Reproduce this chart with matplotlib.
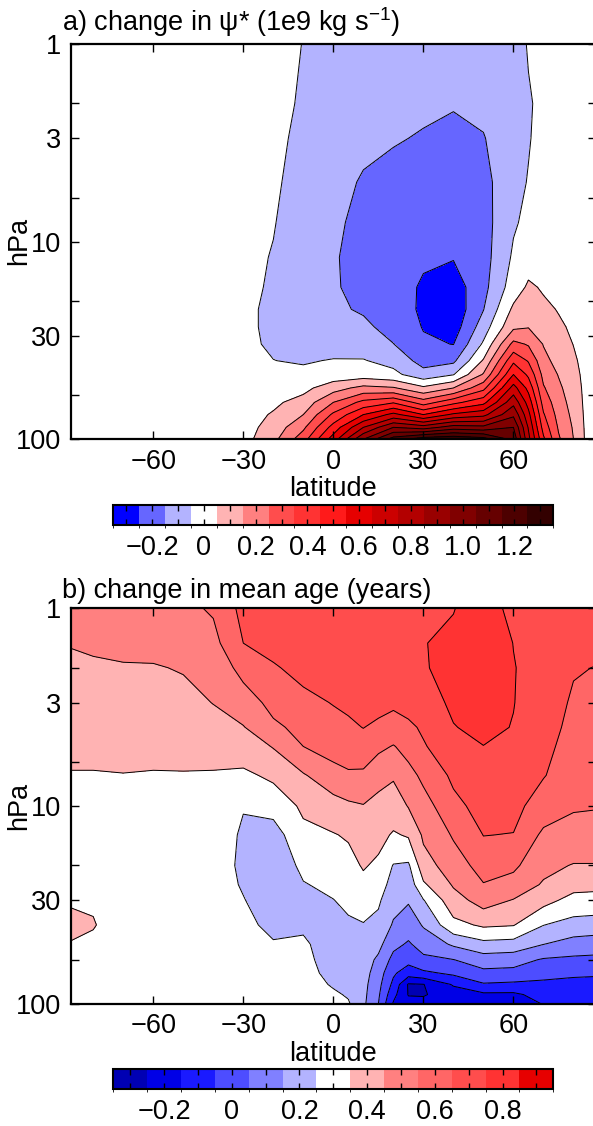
import numpy as np
import matplotlib
matplotlib.use('Agg')
import matplotlib.pyplot as plt
from matplotlib.colors import ListedColormap, BoundaryNorm
from matplotlib.ticker import FixedLocator, NullLocator

plt.rcParams['font.family'] = ['Liberation Sans', 'DejaVu Sans']
plt.rcParams['mathtext.fontset'] = 'custom'
plt.rcParams['mathtext.rm'] = 'Liberation Sans'
plt.rcParams['mathtext.it'] = 'Liberation Sans:italic'
plt.rcParams['font.size'] = 19.5
plt.rcParams['contour.negative_linestyle'] = 'solid'

# ---- a) change in residual streamfunction, 1e9 kg/s ----
lat_a = [-88, -60, -40, -30, -20, -10, 0, 10, 20, 30, 40, 50, 60, 65, 70, 75, 80, 84, 88]
p_a = [1, 2, 3, 5, 8, 12, 17, 22, 27, 33, 40, 47, 55, 65, 75, 87, 100]
# one profile (top -> bottom) per latitude
psi_a = [
    [0] * 17,
    [0] * 17,
    [0] * 17,
    [0, -0.01, -0.01, -0.015, -0.02, -0.025, -0.03, -0.035, -0.035, -0.035, -0.03, -0.02, -0.01, 0.0, 0.005, 0.01, 0.015],
    [-0.02, -0.025, -0.03, -0.038, -0.046, -0.055, -0.06, -0.065, -0.065, -0.06, -0.049, -0.03, -0.01, 0.03, 0.06, 0.09, 0.12],
    [-0.052, -0.06, -0.07, -0.08, -0.09, -0.095, -0.1, -0.1, -0.095, -0.085, -0.058, -0.03, 0.02, 0.09, 0.15, 0.23, 0.31],
    [-0.075, -0.09, -0.1, -0.115, -0.13, -0.14, -0.14, -0.135, -0.12, -0.085, -0.045, -0.01, 0.11, 0.25, 0.37, 0.49, 0.6],
    [-0.09, -0.11, -0.13, -0.16, -0.18, -0.19, -0.18, -0.16, -0.13, -0.09, -0.045, 0.0, 0.18, 0.38, 0.55, 0.75, 0.95],
    [-0.1, -0.125, -0.145, -0.175, -0.195, -0.21, -0.215, -0.205, -0.185, -0.148, -0.08, -0.025, 0.16, 0.44, 0.68, 0.95, 1.2],
    [-0.11, -0.14, -0.155, -0.19, -0.22, -0.24, -0.26, -0.265, -0.255, -0.235, -0.19, -0.11, 0.07, 0.3, 0.55, 0.9, 1.32],
    [-0.11, -0.145, -0.17, -0.2, -0.225, -0.245, -0.3, -0.32, -0.3, -0.252, -0.17, -0.055, 0.15, 0.42, 0.67, 1.0, 1.34],
    [-0.1, -0.13, -0.155, -0.18, -0.19, -0.19, -0.18, -0.153, -0.1, -0.035, 0.06, 0.16, 0.32, 0.52, 0.72, 0.98, 1.3],
    [-0.08, -0.085, -0.085, -0.08, -0.06, -0.035, 0.0, 0.07, 0.13, 0.28, 0.43, 0.55, 0.69, 0.82, 0.93, 1.05, 1.12],
    [-0.045, -0.058, -0.055, -0.045, -0.03, 0.01, 0.065, 0.11, 0.145, 0.24, 0.34, 0.43, 0.52, 0.61, 0.68, 0.74, 0.78],
    [-0.03, -0.03, -0.025, -0.015, 0.0, 0.02, 0.04, 0.07, 0.1, 0.145, 0.18, 0.22, 0.26, 0.31, 0.36, 0.41, 0.47],
    [-0.02, -0.02, -0.015, -0.01, 0.0, 0.01, 0.025, 0.045, 0.065, 0.09, 0.115, 0.145, 0.17, 0.195, 0.215, 0.24, 0.265],
    [-0.01, -0.01, -0.01, 0.0, 0.0, 0.005, 0.015, 0.025, 0.035, 0.048, 0.065, 0.08, 0.095, 0.11, 0.125, 0.14, 0.15],
    [0, 0, 0, 0, 0, 0, 0.005, 0.01, 0.012, 0.015, 0.02, 0.025, 0.028, 0.03, 0.033, 0.037, 0.04],
    [0] * 17,
]
levels_a = np.round(np.arange(-0.35, 1.36, 0.1), 2)
colors_a = ['#0000ff', '#6666ff', '#b3b3ff', '#ffffff', '#ffb3b3', '#ff8080', '#ff4d4d',
            '#ff3333', '#ff1a1a', '#e60000', '#cc0000', '#b30000', '#990000', '#800000',
            '#660000', '#4d0000', '#330000']
cb_labels_a = ['', '\u22120.2', '', '0', '', '0.2', '', '0.4', '', '0.6', '', '0.8', '',
               '1.0', '', '1.2', '']

# ---- b) change in mean age, years ----
lat_b = [-88, -80, -70, -60, -50, -40, -30, -20, -10, 0, 5, 10, 15, 20, 25, 30, 40, 50, 60, 70, 80, 88]
p_b = [1, 1.5, 2, 3, 4, 5, 7, 10, 14, 20, 25, 30, 40, 50, 60, 70, 80, 90, 100]
age_b = [
    [0.5, 0.452, 0.44, 0.42, 0.395, 0.37, 0.345, 0.33, 0.32, 0.315, 0.32, 0.34, 0.38, 0.345, 0.32, 0.31, 0.3, 0.3, 0.3],
    [0.5, 0.46, 0.44, 0.42, 0.395, 0.37, 0.345, 0.33, 0.32, 0.315, 0.32, 0.34, 0.356, 0.33, 0.315, 0.305, 0.3, 0.3, 0.3],
    [0.5, 0.465, 0.445, 0.42, 0.395, 0.37, 0.348, 0.33, 0.32, 0.31, 0.305, 0.3, 0.3, 0.3, 0.3, 0.3, 0.3, 0.3, 0.3],
    [0.51, 0.47, 0.445, 0.42, 0.395, 0.37, 0.345, 0.33, 0.32, 0.31, 0.305, 0.3, 0.3, 0.3, 0.3, 0.3, 0.3, 0.3, 0.3],
    [0.53, 0.48, 0.455, 0.425, 0.4, 0.375, 0.345, 0.33, 0.32, 0.31, 0.305, 0.3, 0.3, 0.3, 0.3, 0.3, 0.3, 0.3, 0.3],
    [0.56, 0.52, 0.49, 0.452, 0.42, 0.39, 0.34, 0.32, 0.31, 0.3, 0.3, 0.295, 0.29, 0.29, 0.29, 0.3, 0.3, 0.3, 0.3],
    [0.68, 0.65, 0.58, 0.5, 0.445, 0.4, 0.33, 0.255, 0.235, 0.23, 0.24, 0.255, 0.28, 0.29, 0.29, 0.295, 0.3, 0.3, 0.3],
    [0.72, 0.68, 0.64, 0.58, 0.53, 0.455, 0.37, 0.28, 0.21, 0.19, 0.185, 0.19, 0.22, 0.26, 0.28, 0.29, 0.3, 0.3, 0.3],
    [0.74, 0.72, 0.68, 0.62, 0.58, 0.55, 0.44, 0.37, 0.32, 0.27, 0.245, 0.225, 0.235, 0.265, 0.28, 0.29, 0.295, 0.3, 0.3],
    [0.74, 0.72, 0.7, 0.655, 0.61, 0.58, 0.52, 0.4, 0.345, 0.3, 0.27, 0.248, 0.22, 0.2, 0.2, 0.215, 0.24, 0.265, 0.28],
    [0.74, 0.72, 0.7, 0.665, 0.635, 0.6, 0.535, 0.43, 0.36, 0.315, 0.29, 0.27, 0.235, 0.22, 0.21, 0.21, 0.22, 0.24, 0.26],
    [0.74, 0.72, 0.7, 0.67, 0.652, 0.61, 0.53, 0.445, 0.41, 0.36, 0.32, 0.29, 0.245, 0.215, 0.2, 0.19, 0.18, 0.175, 0.17],
    [0.74, 0.725, 0.71, 0.68, 0.63, 0.57, 0.48, 0.42, 0.38, 0.33, 0.3, 0.265, 0.22, 0.18, 0.13, 0.1, 0.08, 0.065, 0.05],
    [0.745, 0.73, 0.71, 0.67, 0.6, 0.545, 0.46, 0.4, 0.34, 0.245, 0.21, 0.18, 0.14, 0.075, 0.02, -0.035, -0.075, -0.12, -0.16],
    [0.745, 0.73, 0.715, 0.685, 0.63, 0.58, 0.52, 0.455, 0.36, 0.235, 0.19, 0.16, 0.09, 0.04, -0.02, -0.1, -0.26, -0.255, -0.22],
    [0.745, 0.745, 0.74, 0.7, 0.665, 0.64, 0.57, 0.51, 0.465, 0.41, 0.335, 0.245, 0.16, 0.085, 0.03, -0.07, -0.253, -0.258, -0.22],
    [0.745, 0.78, 0.79, 0.77, 0.745, 0.72, 0.67, 0.62, 0.56, 0.5, 0.46, 0.41, 0.32, 0.165, 0.048, -0.03, -0.14, -0.2, -0.22],
    [0.82, 0.83, 0.83, 0.81, 0.78, 0.748, 0.72, 0.69, 0.652, 0.59, 0.545, 0.49, 0.365, 0.22, 0.1, 0.025, -0.06, -0.17, -0.2],
    [0.71, 0.748, 0.755, 0.753, 0.745, 0.735, 0.715, 0.68, 0.647, 0.57, 0.51, 0.445, 0.355, 0.21, 0.09, 0.02, -0.07, -0.17, -0.2],
    [0.71, 0.705, 0.7, 0.69, 0.68, 0.67, 0.655, 0.6, 0.53, 0.475, 0.44, 0.38, 0.252, 0.152, 0.04, -0.02, -0.07, -0.11, -0.145],
    [0.69, 0.67, 0.655, 0.64, 0.63, 0.62, 0.6, 0.56, 0.51, 0.445, 0.38, 0.32, 0.21, 0.11, 0.03, -0.035, -0.075, -0.1, -0.12],
    [0.69, 0.665, 0.648, 0.635, 0.625, 0.615, 0.595, 0.555, 0.51, 0.445, 0.375, 0.315, 0.2, 0.1, 0.025, -0.04, -0.075, -0.1, -0.12],
]
levels_b = np.round(np.arange(-0.35, 0.96, 0.1), 2)
colors_b = ['#0000b3', '#0000e6', '#1a1aff', '#4d4dff', '#8080ff', '#b3b3ff', '#ffffff',
            '#ffb3b3', '#ff8080', '#ff6666', '#ff4d4d', '#ff3333', '#e60000']
cb_labels_b = ['', '\u22120.2', '', '0', '', '0.2', '', '0.4', '', '0.6', '', '0.8', '']

W, H = 593, 1126
fig = plt.figure(figsize=(W / 100, H / 100), dpi=100)


def px(x0, y0, x1, y1):
    # pixel box (left, top, right, bottom) -> figure fraction rect
    return [x0 / W, 1 - y1 / H, (x1 - x0) / W, (y1 - y0) / H]


def draw_panel(ax, lat, p, field, levels, colors, title):
    z = np.array(field).T
    cmap = ListedColormap(colors)
    norm = BoundaryNorm(levels, cmap.N)
    cs = ax.contourf(lat, p, z, levels=levels, cmap=cmap, norm=norm)
    ax.contour(lat, p, z, levels=levels, colors='k', linewidths=0.7,
               linestyles='solid')
    ax.set_yscale('log')
    ax.set_ylim(100, 1)
    ax.set_xlim(-87.5, 87.5)
    ax.yaxis.set_major_locator(FixedLocator([1, 2, 3, 6, 10, 20, 30, 60, 100]))
    ax.yaxis.set_minor_locator(NullLocator())
    ax.set_yticklabels(['1', '', '3', '', '10', '', '30', '', '100'])
    ax.set_xticks([-60, -30, 0, 30, 60])
    ax.set_xticklabels(['\u221260', '\u221230', '0', '30', '60'])
    ax.tick_params(direction='in', top=True, right=True, length=6, width=1, pad=7)
    for s in ax.spines.values():
        s.set_linewidth(1.6)
    ax.set_xlabel('latitude', labelpad=1)
    ax.text(-0.016, 1.012, title, transform=ax.transAxes, ha='left', va='bottom')
    return cs


def draw_cbar(cs, rect, levels, labels):
    cax = fig.add_axes(rect)
    cb = fig.colorbar(cs, cax=cax, orientation='horizontal')
    centers = (levels[:-1] + levels[1:]) / 2
    cb.set_ticks(centers)
    cb.set_ticklabels(labels)
    cax.tick_params(direction='in', top=True, bottom=True, length=4, width=1, pad=7)
    cb.outline.set_linewidth(1.5)


ax_a = fig.add_axes(px(70.7, 44, 596, 439.3))
cs_a = draw_panel(ax_a, lat_a, p_a, psi_a, levels_a, colors_a,
                  'a) change in \u03c8* (1e9 kg s$^{-1}$)')
fig.text(19 / W, 1 - 241 / H, 'hPa', rotation=90, ha='center', va='center')
draw_cbar(cs_a, px(113.3, 505, 553.3, 525), levels_a, cb_labels_a)

ax_b = fig.add_axes(px(70.7, 608.3, 596, 1003.6))
cs_b = draw_panel(ax_b, lat_b, p_b, age_b, levels_b, colors_b,
                  'b) change in mean age (years)')
fig.text(19 / W, 1 - 806 / H, 'hPa', rotation=90, ha='center', va='center')
draw_cbar(cs_b, px(113.3, 1069, 553.3, 1089), levels_b, cb_labels_b)

fig.savefig('out.png', dpi=100)
